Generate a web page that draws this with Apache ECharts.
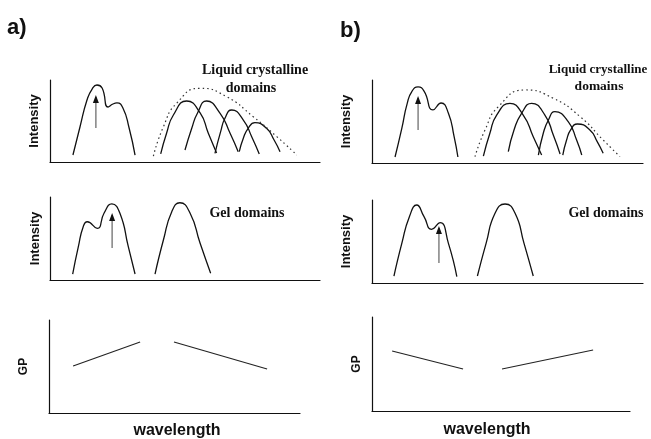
<!DOCTYPE html>
<html>
<head>
<meta charset="utf-8">
<script src="https://cdn.jsdelivr.net/npm/echarts@6/dist/echarts.min.js"></script>
<style>html,body{margin:0;padding:0;background:#fff}#c{width:651px;height:439px}</style>
</head>
<body>
<div id="c"></div>
<script>
// ---- data (arbitrary units, 0-100 on each schematic axis) ----
// Panel a, top (liquid crystalline)
const topA_probe = [[8.5,8.5],[11.1,42.7],[13.7,75.6],[15.6,89],[17.4,93.9],[19.3,90.2],[21.5,67.1],[23.3,70.7],[24.8,72],[27.0,65.9],[29.3,41.5],[31.5,8.5]];
const topA_lc1 = [[41.0,9.8],[43.2,35.4],[45.7,57.3],[50.6,74.4],[55.6,59.8],[58.6,35.4],[61.7,11]];
const topA_lc2 = [[50,14.6],[52.5,41.1],[54.6,59.4],[58.0,74.4],[63.0,59.4],[66.7,35],[69.7,12.6]];
const topA_lc3 = [[61.1,10.6],[63.2,37],[64.8,53.3],[67.3,63.4],[71.6,51.2],[74.7,30.9],[77.5,9.8]];
const topA_lc4 = [[70.1,12.6],[71.6,28.9],[73.4,41.1],[75.9,47.9],[80.2,41.1],[83,26.8],[85.2,12.6]];
const topA_env = [[38.3,7.3],[42,43],[46.9,71.6],[55.6,89.9],[65.4,79.6],[75.3,55.2],[84,30.9],[91.4,8.5]];
const topA_arrow = [[17,41.5],[17,79.3]];
// Panel b, top
const topB_probe = [[8.5,7.2],[11,41.8],[13,71.9],[14.8,86.7],[17,91.6],[19.2,86.7],[22.5,63.9],[25.5,72.3],[28.2,59.9],[30.3,31.7],[31.7,7.2]];
const topB_lc1 = [[41.1,8.4],[43.5,35.8],[46,57.8],[50.9,71.9],[55.8,57.8],[59.5,31.7],[62.6,9.6]];
const topB_lc2 = [[50.3,13.6],[52.4,39.8],[55.2,59.9],[58.9,71.9],[63.8,57.8],[66.9,33.7],[69.4,10.8]];
const topB_lc3 = [[61.4,9.6],[63.2,35.8],[65.1,51.8],[67.5,61.8],[72.4,49.8],[75.5,27.7],[77.4,9.6]];
const topB_lc4 = [[70.4,9.6],[71.8,27.7],[73.3,39.8],[75.8,47],[80.4,39.8],[83.1,25.7],[85.3,11.7]];
const topB_env = [[38,7.6],[41.7,39.8],[46.6,67.8],[56.5,88],[66.9,78],[76.8,55.8],[85.3,27.7],[91.5,7.6]];
const topB_arrow = [[17,39.8],[17,78.3]];
// Panel a, middle (gel)
const midA_probe = [[8.4,7.2],[10.5,40.1],[12.3,64.2],[13.8,70.2],[17.5,62.3],[20,80.4],[22.9,91.6],[25.9,80.4],[29,40.1],[31.5,7.2]];
const midA_gel = [[38.9,7.2],[42,48.2],[45.1,82.3],[48.1,93.1],[51.9,80.4],[55.6,44.2],[59.5,8.1]];
const midA_arrow = [[23,38.6],[23,78.3]];
// Panel b, middle
const midB_probe = [[8.1,8.4],[11,47.8],[13.8,79.9],[16.5,94],[19.2,79.9],[22,64.7],[25.1,72.7],[28.2,47.8],[31.3,7.6]];
const midB_gel = [[38.9,8.4],[42.1,47.8],[45.4,84],[49.1,95.2],[52.8,84],[56.1,47.8],[59.5,8.4]];
const midB_arrow = [[24.7,24.1],[24.7,66.3]];
// GP panels
const botA_gp1 = [[9.6,50.5],[36.3,76.3]];
const botA_gp2 = [[49.8,76.3],[86.9,47.3]];
const botB_gp1 = [[7.8,63.8],[35.3,44.7]];
const botB_gp2 = [[50.4,44.7],[85.7,64.9]];
// labels
const yNames = ['Intensity','Intensity','Intensity','Intensity','GP','GP'];
const lcLabel = ['Liquid crystalline','domains'];
const gelLabel = 'Gel domains';
const xLabel = 'wavelength';
const panelLabels = ['a)','b)'];

const SANS = "'Liberation Sans', Arial, sans-serif";
const SERIF = "'Liberation Serif', 'Times New Roman', serif";
const INK = '#111';

const grids = [
  {left:50, top:80, width:270, height:82},
  {left:372, top:80, width:271, height:83},
  {left:50, top:197, width:270, height:83},
  {left:372, top:200, width:271, height:83},
  {left:49, top:320, width:251, height:93},
  {left:372, top:317, width:258, height:94}
];
const nameGaps = [9, 19, 8, 19, 19, 9];

const xAxes = grids.map((g,i)=>({
  type:'value', gridIndex:i, min:0, max:100,
  axisLine:{show:true, onZero:false, lineStyle:{color:INK, width:1.2}},
  axisTick:{show:false}, axisLabel:{show:false}, splitLine:{show:false}
}));
const yAxes = grids.map((g,i)=>({
  type:'value', gridIndex:i, min:0, max:100,
  name: yNames[i], nameLocation:'middle', nameGap: nameGaps[i], nameRotate:90,
  nameTextStyle:{fontFamily:SANS, fontSize: i>=4 ? 12 : 13, fontWeight:'bold', color:INK},
  axisLine:{show:true, onZero:false, lineStyle:{color:INK, width:1.2}},
  axisTick:{show:false}, axisLabel:{show:false}, splitLine:{show:false}
}));

function curve(data, gi, extra){
  return Object.assign({
    type:'line', xAxisIndex:gi, yAxisIndex:gi, data:data, smooth:0.55,
    symbol:'none', silent:true,
    lineStyle:{color:INK, width:1.3}
  }, extra||{});
}
function arrowSeries(arrow, gi){
  return {
    type:'line', xAxisIndex:gi, yAxisIndex:gi, data:arrow, silent:true,
    symbol:'none', lineStyle:{color:'#555', width:1.1},
    markPoint:{
      silent:true, symbol:'triangle', symbolSize:[6,8],
      itemStyle:{color:'#111'}, label:{show:false},
      data:[{coord:arrow[1], symbolOffset:[0,2]}]
    }
  };
}
const dotted = {lineStyle:{color:'#333', width:1.2, type:[1.5,3]}};
const straight = {smooth:false, lineStyle:{color:'#222', width:1.1}};

const series = [
  curve(topA_probe,0), arrowSeries(topA_arrow,0),
  curve(topA_lc1,0), curve(topA_lc2,0), curve(topA_lc3,0), curve(topA_lc4,0),
  curve(topA_env,0,dotted),
  curve(topB_probe,1), arrowSeries(topB_arrow,1),
  curve(topB_lc1,1), curve(topB_lc2,1), curve(topB_lc3,1), curve(topB_lc4,1),
  curve(topB_env,1,dotted),
  curve(midA_probe,2), arrowSeries(midA_arrow,2), curve(midA_gel,2),
  curve(midB_probe,3), arrowSeries(midB_arrow,3), curve(midB_gel,3),
  curve(botA_gp1,4,straight), curve(botA_gp2,4,straight),
  curve(botB_gp1,5,straight), curve(botB_gp2,5,straight)
];

function txt(x,y,s,font,size,weight,align){
  return {type:'text', x:x, y:y, silent:true,
    style:{text:s, font: (weight||'normal')+' '+size+'px '+font, fill:INK,
      textAlign:align||'center', textVerticalAlign:'middle'}};
}
const graphics = [
  txt(7,28,panelLabels[0],SANS,22,'bold','left'),
  txt(340,31,panelLabels[1],SANS,22,'bold','left'),
  txt(255,70,lcLabel[0],SERIF,14,'bold'),
  txt(251,88,lcLabel[1],SERIF,14,'bold'),
  txt(598,70,lcLabel[0],SERIF,13,'bold'),
  txt(599,87,lcLabel[1],SERIF,13.5,'bold'),
  txt(247,213,gelLabel,SERIF,14,'bold'),
  txt(606,213,gelLabel,SERIF,14,'bold'),
  txt(177,431,xLabel,SANS,16,'bold'),
  txt(487,430,xLabel,SANS,16,'bold')
];

const chart = echarts.init(document.getElementById('c'), null, {renderer:'canvas'});
chart.setOption({
  animation:false,
  backgroundColor:'#fff',
  grid: grids,
  xAxis: xAxes,
  yAxis: yAxes,
  series: series,
  graphic: graphics
});
</script>
</body>
</html>
